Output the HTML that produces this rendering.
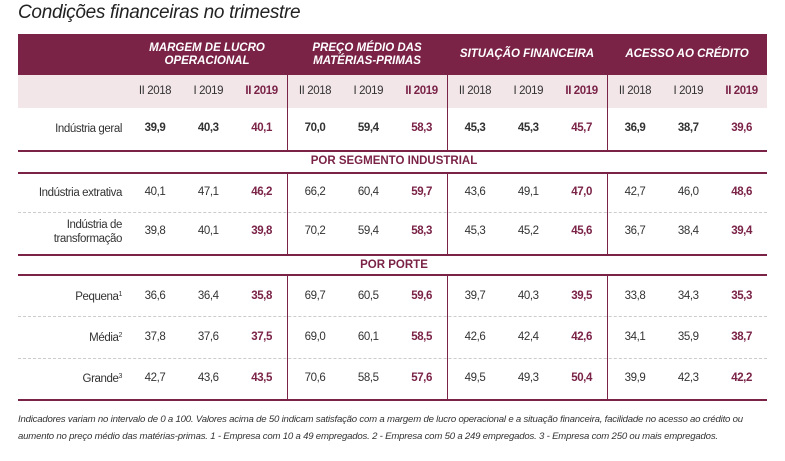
<!DOCTYPE html>
<html><head><meta charset="utf-8">
<style>
body{margin:0;width:785px;height:461px;background:#fff;font-family:"Liberation Sans",sans-serif;position:relative;overflow:hidden;color:#333}
.a{position:absolute;white-space:nowrap}
.t{left:18px;top:2px;font-size:19px;font-style:italic;color:#222;letter-spacing:-0.3px}
.c{transform:translateX(-50%);font-size:11.5px;letter-spacing:-0.4px}
.r{transform:translateX(-100%);text-align:right;font-size:11.5px;letter-spacing:-0.4px;line-height:14px}
.h{color:#fff;font-weight:bold;font-style:italic;font-size:11.5px;text-align:center;line-height:13px;transform:translateX(-50%)}
.hl{position:absolute;left:18px;width:749px;height:2px;background:#7a2347}
.dl{position:absolute;left:18px;width:749px;border-top:1px dashed #ccc}
.vl{position:absolute;width:1px;background:#7a2347}
.sec{color:#7a2347;font-weight:bold;font-size:11.5px;transform:translateX(-50%)}
.f{left:18px;font-size:9.6px;font-style:italic;color:#333;letter-spacing:-0.2px}
sup{font-size:7px;line-height:0;vertical-align:4px}
</style></head><body>
<div class="a t">Condições financeiras no trimestre</div>
<div class="a" style="left:18px;top:34px;width:749px;height:41px;background:#7a2347"></div>
<div class="a" style="left:18px;top:75px;width:749px;height:33px;background:#f2e6e9"></div>
<div id="tbl"></div>
<div class="a f" style="top:414px">Indicadores variam no intervalo de 0 a 100. Valores acima de 50 indicam satisfação com a margem de lucro operacional e a situação financeira, facilidade no acesso ao crédito ou</div>
<div class="a f" style="top:431px">aumento no preço médio das matérias-primas. 1 - Empresa com 10 a 49 empregados. 2 - Empresa com 50 a 249 empregados. 3 - Empresa com 250 ou mais empregados.</div>
<script>
const groups=["MARGEM DE LUCRO<br>OPERACIONAL","PREÇO MÉDIO DAS<br>MATÉRIAS-PRIMAS","SITUAÇÃO FINANCEIRA","ACESSO AO CRÉDITO"];
const periods=["II 2018","I 2019","II 2019"];
const rowLabels=["Indústria geral","Indústria extrativa","Indústria de<br>transformação","Pequena<sup>1</sup>","Média<sup>2</sup>","Grande<sup>3</sup>"];
const rowVals=[
["39,9","40,3","40,1","70,0","59,4","58,3","45,3","45,3","45,7","36,9","38,7","39,6"],
["40,1","47,1","46,2","66,2","60,4","59,7","43,6","49,1","47,0","42,7","46,0","48,6"],
["39,8","40,1","39,8","70,2","59,4","58,3","45,3","45,2","45,6","36,7","38,4","39,4"],
["36,6","36,4","35,8","69,7","60,5","59,6","39,7","40,3","39,5","33,8","34,3","35,3"],
["37,8","37,6","37,5","69,0","60,1","58,5","42,6","42,4","42,6","34,1","35,9","38,7"],
["42,7","43,6","43,5","70,6","58,5","57,6","49,5","49,3","50,4","39,9","42,3","42,2"]];
const sections=["POR SEGMENTO INDUSTRIAL","POR PORTE"];
const T=document.getElementById('tbl');
function add(cls,html,x,y,name,style){const d=document.createElement('div');d.className='a '+cls;d.innerHTML=html;d.style.left=x+'px';d.style.top=y+'px';if(style)d.style.cssText+=style;


T.appendChild(d);return d;}
const g0=127,gw=160,cw=53.3;
const colX=(g,p)=>g0+g*gw+28+p*cw;
groups.forEach((g,i)=>{const two=g.includes('<br>');add('h',g,g0+i*gw+80,two?42:48,'group-header');
periods.forEach((p,j)=>add('c',p,colX(i,j),85,'period-header',j==2?'color:#7a2347;font-weight:bold':''));});
const rowY=[122,186,225,290,331,372];
rowLabels.forEach((l,i)=>{const two=l.includes('<br>');add('r',l,122,rowY[i]-(two?7:0),'row-label');
rowVals[i].forEach((v,k)=>{const g=Math.floor(k/3),p=k%3;add('c',v,colX(g,p),rowY[i],'value-cell',(i==0?'font-weight:bold;':'')+(p==2?'color:#7a2347;font-weight:bold;':''));});});
add('sec',sections[0],394,155,'section-segmento');
add('sec',sections[1],394,259,'section-porte');
[150,172,254,274,399].forEach(y=>add('hl','',18,y,'h-rule'));
[212,316,358].forEach(y=>add('dl','',18,y,'dotted-rule'));
[[75,150],[173,254],[275,399]].forEach(([a,b])=>[287,447,607].forEach(x=>add('vl','',x,a,'v-rule','height:'+(b-a)+'px')));
</script>
</body></html>
